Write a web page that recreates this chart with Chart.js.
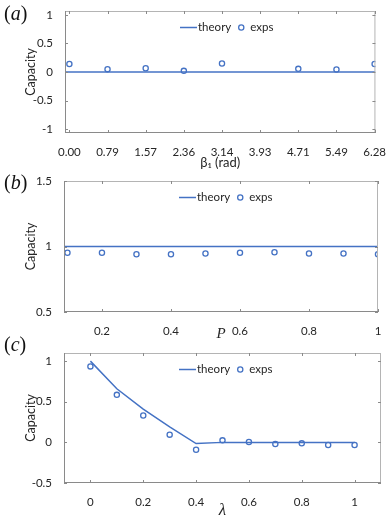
<!DOCTYPE html>
<html>
<head>
<meta charset="utf-8">
<script src="https://cdn.jsdelivr.net/npm/chart.js@4.4.1/dist/chart.umd.min.js"></script>
<style>
  body { margin: 0; background: #fff; }
  #wrap { position: relative; width: 390px; height: 524px; overflow: hidden; }
  canvas { position: absolute; left: 0; }
  .tag { position: absolute; left: 4px; font: 20px "Liberation Serif", serif; color: #111; }
  .tag i { font-style: italic; }
</style>
</head>
<body>
<div id="wrap">
  <canvas id="chartA" width="390" height="170" style="top:0"></canvas>
  <canvas id="chartB" width="390" height="170" style="top:170px"></canvas>
  <canvas id="chartC" width="390" height="184" style="top:340px"></canvas>
  <div class="tag" style="top:2px">(<i>a</i>)</div>
  <div class="tag" style="top:171px">(<i>b</i>)</div>
  <div class="tag" style="top:333px">(<i>c</i>)</div>
</div>
<script>
// (a) capacity vs beta1
const betaTicks = [0, 0.7854, 1.5708, 2.3562, 3.1416, 3.927, 4.7124, 5.4978, 6.2832];
const betaLabels = ["0.00", "0.79", "1.57", "2.36", "3.14", "3.93", "4.71", "5.49", "6.28"];
const betaExpX = [0, 0.7854, 1.5708, 2.3562, 3.1416, 4.7124, 5.4978, 6.2832];
const betaExpY = [0.14, 0.05, 0.065, 0.02, 0.15, 0.055, 0.045, 0.14];
const betaTheoryX = [-0.09, 6.3];
const betaTheoryY = [0, 0];
const capTicksA = [-1, -0.5, 0, 0.5, 1];

// (b) capacity vs P
const pTicks = [0.2, 0.4, 0.6, 0.8, 1];
const pExpX = [0.1, 0.2, 0.3, 0.4, 0.5, 0.6, 0.7, 0.8, 0.9, 1.0];
const pExpY = [0.952, 0.952, 0.941, 0.941, 0.946, 0.952, 0.956, 0.946, 0.946, 0.941];
const pTheoryX = [0.09, 1.0];
const pTheoryY = [1, 1];
const capTicksB = [0.5, 1, 1.5];

// (c) capacity vs lambda
const lamTicks = [0, 0.2, 0.4, 0.6, 0.8, 1];
const lamX = [0, 0.1, 0.2, 0.3, 0.4, 0.5, 0.6, 0.7, 0.8, 0.9, 1.0];
const lamTheoryY = [1.0, 0.66, 0.41, 0.19, -0.015, 0, 0, 0, 0, 0, 0];
const lamExpY = [0.935, 0.585, 0.33, 0.095, -0.09, 0.025, 0.005, -0.02, -0.012, -0.033, -0.033];
const capTicksC = [-0.5, 0, 0.5, 1];

const blue = "#4472c4";
const txt = "#262626";
const legendFont = "11.5px Lato";

// box frame + inward ticks, MATLAB style
const boxPlugin = {
    id: "box",
    afterDraw(chart) {
        const { ctx, chartArea: a, scales } = chart;
        ctx.save();
        ctx.lineWidth = 1;
        ctx.strokeStyle = "#b4b4b4";
        ctx.beginPath();
        ctx.moveTo(a.left, a.top + 0.5); ctx.lineTo(a.right, a.top + 0.5);
        ctx.moveTo(a.right - 0.5, a.top); ctx.lineTo(a.right - 0.5, a.bottom);
        ctx.stroke();
        ctx.strokeStyle = "#8a8a8a";
        ctx.beginPath();
        ctx.moveTo(a.left + 0.5, a.top); ctx.lineTo(a.left + 0.5, a.bottom);
        ctx.moveTo(a.left, a.bottom - 0.5); ctx.lineTo(a.right, a.bottom - 0.5);
        scales.x.ticks.forEach(t => {
            const px = Math.round(scales.x.getPixelForValue(t.value)) + 0.5;
            ctx.moveTo(px, a.bottom); ctx.lineTo(px, a.bottom - 3);
            ctx.moveTo(px, a.top); ctx.lineTo(px, a.top + 3);
        });
        scales.y.ticks.forEach(t => {
            const py = Math.round(scales.y.getPixelForValue(t.value)) + 0.5;
            ctx.moveTo(a.left, py); ctx.lineTo(a.left + 3, py);
            ctx.moveTo(a.right, py); ctx.lineTo(a.right - 3, py);
        });
        ctx.stroke();

        // legend inside the axes, top middle
        const ds = chart.data.datasets;
        let x = a.left + 115;
        const y = a.top + 16.5;
        ctx.font = legendFont;
        ctx.fillStyle = txt;
        ctx.textBaseline = "middle";
        ctx.strokeStyle = ds[0].borderColor;
        ctx.lineWidth = ds[0].borderWidth;
        ctx.beginPath();
        ctx.moveTo(x, y); ctx.lineTo(x + 17, y);
        ctx.stroke();
        x += 18;
        ctx.fillText(ds[0].label, x, y);
        x += ctx.measureText(ds[0].label).width + 10;
        ctx.strokeStyle = ds[1].borderColor;
        ctx.lineWidth = ds[1].borderWidth;
        ctx.beginPath();
        ctx.arc(x, y, ds[1].pointRadius, 0, Math.PI * 2);
        ctx.stroke();
        x += 9;
        ctx.fillText(ds[1].label, x, y);
        ctx.restore();
    }
};

function makePanel(id, cfg) {
    const points = (xs, ys) => xs.map((x, i) => ({ x: x, y: ys[i] }));
    return new Chart(document.getElementById(id), {
        type: "scatter",
        data: {
            datasets: [
                {
                    label: "theory",
                    type: "line",
                    data: points(cfg.theoryX, cfg.theoryY),
                    borderColor: blue,
                    borderWidth: 1.5,
                    pointRadius: 0,
                    fill: false
                },
                {
                    label: "exps",
                    data: points(cfg.expX, cfg.expY),
                    borderColor: blue,
                    backgroundColor: "rgba(0,0,0,0)",
                    borderWidth: 1.3,
                    pointRadius: 2.6
                }
            ]
        },
        options: {
            responsive: false,
            animation: false,
            layout: { padding: { top: cfg.top, right: cfg.right, left: 0, bottom: 0 } },
            plugins: {
                tooltip: { enabled: false },
                legend: { display: false }
            },
            scales: {
                x: {
                    type: "linear",
                    min: cfg.xMin,
                    max: cfg.xMax,
                    grid: { display: false },
                    border: { display: false },
                    afterBuildTicks: s => { s.ticks = cfg.xTicks.map(v => ({ value: v })); },
                    afterFit: s => { s.height = cfg.xAxisH; },
                    ticks: {
                        autoSkip: false,
                        maxRotation: 0,
                        padding: 4,
                        color: txt,
                        font: { family: "Lato", size: 11.5 },
                        callback: (v, i) => cfg.xLabels ? cfg.xLabels[i] : String(v)
                    },
                    title: {
                        display: true,
                        text: cfg.xTitle,
                        color: txt,
                        font: cfg.xTitleFont,
                        padding: { top: 0, bottom: cfg.xTitlePad }
                    }
                },
                y: {
                    min: cfg.yMin,
                    max: cfg.yMax,
                    grid: { display: false },
                    border: { display: false },
                    afterBuildTicks: s => { s.ticks = cfg.yTicks.map(v => ({ value: v })); },
                    afterFit: s => { s.width = cfg.yAxisW; },
                    ticks: {
                        padding: 4,
                        color: txt,
                        font: { family: "Lato", size: 11.5 },
                        callback: v => String(v)
                    },
                    title: {
                        display: true,
                        text: "Capacity",
                        color: txt,
                        font: { family: "Lato", size: 12.5 },
                        padding: { top: 23, bottom: 0 }
                    }
                }
            }
        },
        plugins: [boxPlugin]
    });
}

makePanel("chartA", {
    theoryX: betaTheoryX, theoryY: betaTheoryY, expX: betaExpX, expY: betaExpY,
    xMin: -0.09, xMax: 6.3, xTicks: betaTicks, xLabels: betaLabels,
    yMin: -1.07, yMax: 1.07, yTicks: capTicksA,
    xTitle: "\u03b2\u2081 (rad)", xTitleFont: { family: "Lato", size: 13 }, xTitlePad: -1,
    top: 11, right: 11, xAxisH: 37, yAxisW: 65
});

makePanel("chartB", {
    theoryX: pTheoryX, theoryY: pTheoryY, expX: pExpX, expY: pExpY,
    xMin: 0.09, xMax: 1.0, xTicks: pTicks, xLabels: null,
    yMin: 0.5, yMax: 1.5, yTicks: capTicksB,
    xTitle: "P", xTitleFont: { family: "Liberation Serif", size: 15, style: "italic" }, xTitlePad: -3,
    top: 11, right: 12, xAxisH: 28, yAxisW: 64
});

makePanel("chartC", {
    theoryX: lamX, theoryY: lamTheoryY, expX: lamX, expY: lamExpY,
    xMin: -0.1, xMax: 1.1, xTicks: lamTicks, xLabels: null,
    yMin: -0.5, yMax: 1.1, yTicks: capTicksC,
    xTitle: "\u03bb", xTitleFont: { family: "Liberation Serif", size: 17, style: "italic" }, xTitlePad: 3,
    top: 13, right: 9, xAxisH: 41, yAxisW: 64
});
</script>
</body>
</html>
